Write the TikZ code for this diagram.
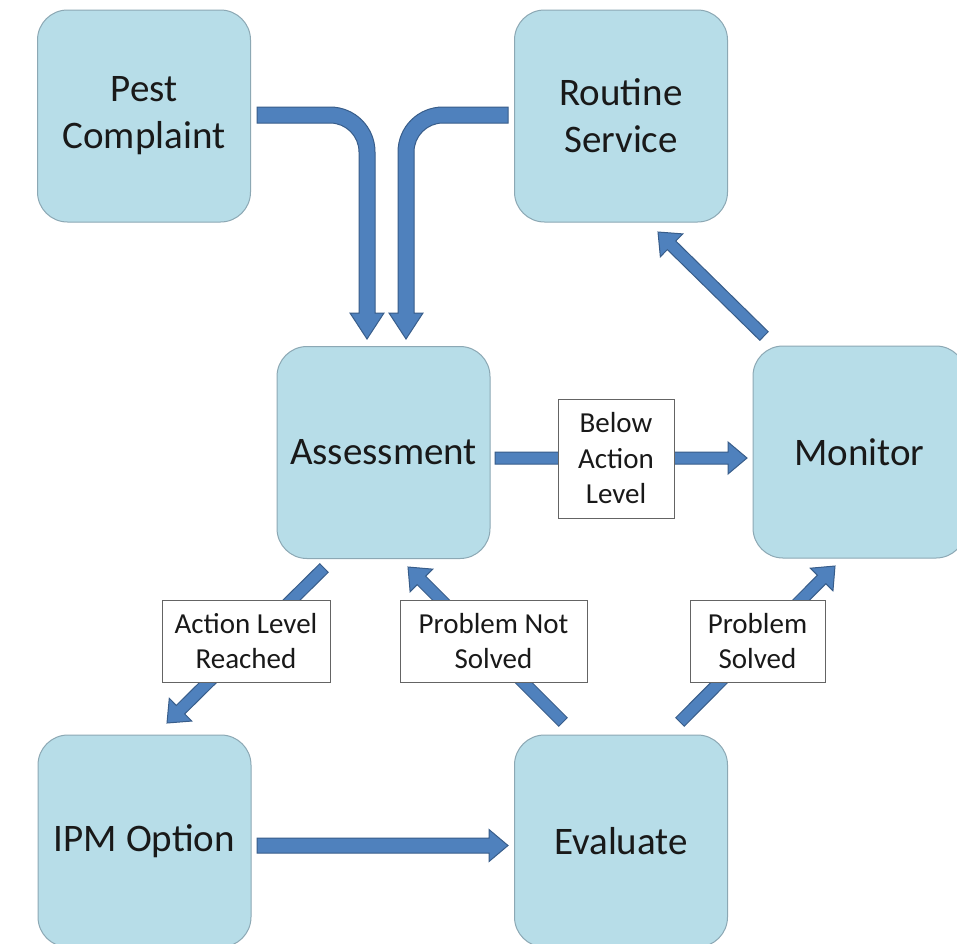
\documentclass[tikz,border=0pt]{standalone}
\usepackage{fontspec}
\setmainfont{Carlito}
\usetikzlibrary{calc}
\definecolor{boxfill}{RGB}{183,221,232}
\definecolor{boxline}{RGB}{140,168,180}
\definecolor{arrowfill}{RGB}{79,129,189}
\definecolor{arrowline}{RGB}{56,93,138}
\definecolor{labelline}{RGB}{100,100,100}
\tikzstyle{every node}=[text=black!90]
\tikzstyle{stage}=[draw=boxline, fill=boxfill, line width=1pt, rounded corners=30pt, minimum width=213pt, minimum height=212pt, align=center, font=\fontsize{39}{47}\selectfont]
\tikzstyle{cond}=[draw=labelline, fill=white, line width=1pt, align=center, inner sep=0pt, font=\fontsize{29}{35.5}\selectfont]
\tikzstyle{blockarrow}=[fill=arrowfill, draw=arrowline, line width=1pt]
\newcommand\blockarrow[3][6]{%
  \coordinate (hb) at ($(#3)!19pt!(#2)$);
  \filldraw[blockarrow] ($(#2)!#1pt!90:(#3)$) -- ($(hb)!#1pt!-90:(#2)$) -- ($(hb)!16pt!-90:(#2)$) -- (#3) -- ($(hb)!16pt!90:(#2)$) -- ($(hb)!#1pt!90:(#2)$) -- ($(#2)!#1pt!-90:(#3)$) -- cycle;}

\begin{document}
\begin{tikzpicture}[x=1pt,y=-1pt]
\fill[white] (0,0) rectangle (957,943);
\useasboundingbox (0,0) rectangle (957,943);

\node[stage] (pc) at (144,116) {Pest\\Complaint};
\node[stage] (rs) at (621,116) {Routine\\Service};
\node[stage] (as) at (383.5,452.5) {Assessment};
\node[stage] (mo) at (859.5,452) {Monitor};
\node[stage] (ipm) at (144.5,841) {IPM Option};
\node[stage] (ev) at (621,841) {Evaluate};

\filldraw[blockarrow] (257,107) -- (330,107) .. controls (355,107) and (375,127) .. (375,152) -- (375,313) -- (384,313) -- (367,339) -- (350,313) -- (359,313) -- (359,152) .. controls (359,136) and (346,123) .. (330,123) -- (257,123) -- cycle;
\filldraw[blockarrow] (508,107) -- (443,107) .. controls (418,107) and (398,127) .. (398,152) -- (398,313) -- (389,313) -- (406,339) -- (423,313) -- (414,313) -- (414,152) .. controls (414,136) and (427,123) .. (443,123) -- (508,123) -- cycle;

\coordinate (am1) at (495,458);
\coordinate (am2) at (747,458);
\coordinate (ai1) at (324,568);
\coordinate (ai2) at (167,723);
\coordinate (ea1) at (563,722);
\coordinate (ea2) at (408,567);
\coordinate (em1) at (680,722);
\coordinate (em2) at (835,566);
\coordinate (mr1) at (764,336);
\coordinate (mr2) at (658,232);
\coordinate (ie1) at (257,845.5);
\coordinate (ie2) at (508,845.5);
\blockarrow{am1}{am2}
\blockarrow{ai1}{ai2}
\blockarrow{ea1}{ea2}
\blockarrow{em1}{em2}
\blockarrow{mr1}{mr2}
\blockarrow[7.5]{ie1}{ie2}

\node[cond, minimum width=116pt, minimum height=119pt] (bal) at (616,458.5) {Below\\Action\\Level};
\node[cond, minimum width=168pt, minimum height=82pt] (alr) at (246,641) {Action Level\\Reached};
\node[cond, minimum width=187pt, minimum height=82pt] (pns) at (493.5,641) {Problem Not\\Solved};
\node[cond, minimum width=135pt, minimum height=82pt] (ps) at (757.5,641) {Problem\\Solved};
\end{tikzpicture}
\end{document}
